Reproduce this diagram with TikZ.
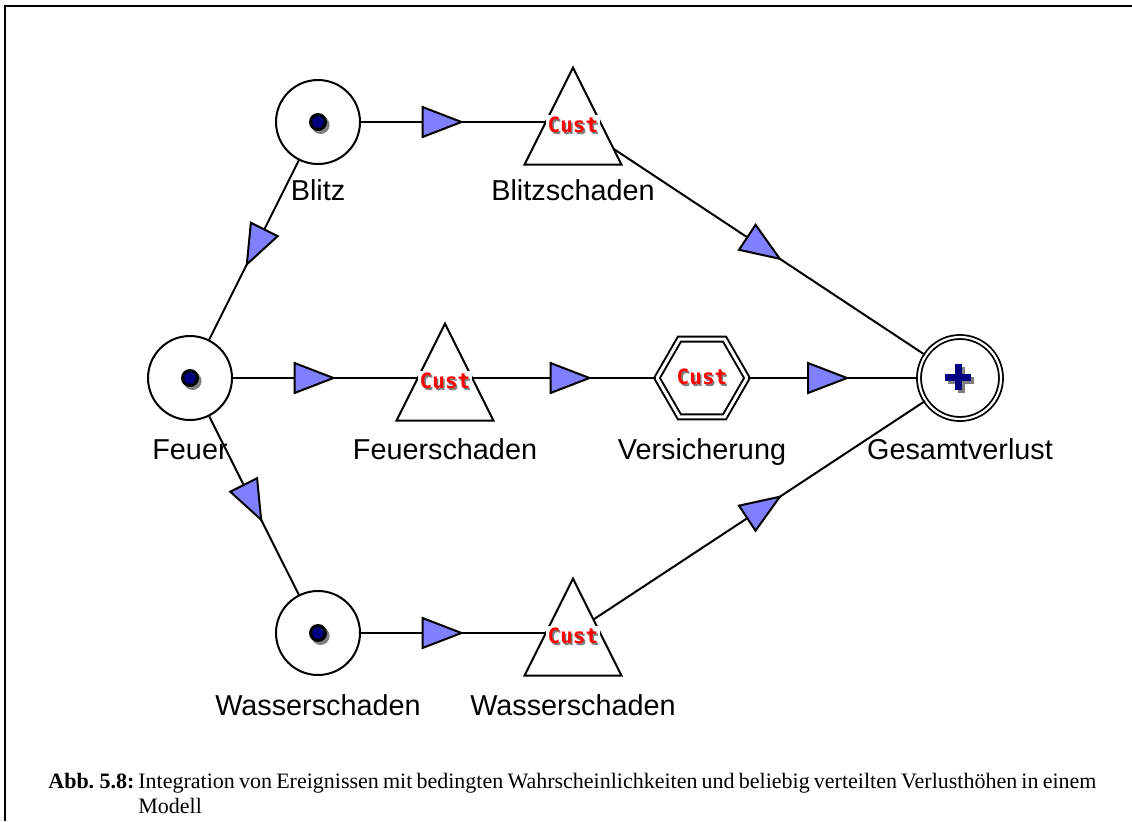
\documentclass[tikz,border=0pt]{standalone}
\usepackage{fontspec}
\setmainfont{Liberation Sans}
\newfontfamily\capfont{Liberation Serif}
\newfontfamily\custfont{DejaVu Sans Mono}
\usepackage{xcolor}
\definecolor{mnavy}{HTML}{000080}
\definecolor{mtri}{HTML}{8080FF}
\definecolor{mshade}{HTML}{808080}
\usetikzlibrary{shapes.geometric,decorations.markings}
\newcommand{\custtag}{\custfont\bfseries\makebox[0pt][l]{\hspace{0.8pt}\raisebox{-1.2pt}{\color{mshade}Cust}}\color{red}Cust}

\begin{document}
\begin{tikzpicture}[x=0.5pt, y=-0.5pt,
    chance/.style={circle, draw, line width=1pt, minimum size=42pt, inner sep=0pt},
    loss/.style={isosceles triangle, isosceles triangle stretches, shape border rotate=90, draw, fill=white, line width=1pt, minimum width=48.5pt, minimum height=48.5pt, inner sep=0pt},
    insure/.style={regular polygon, regular polygon sides=6, draw, double, line width=1pt, double distance=1.5pt, minimum size=45pt, inner sep=0pt},
    total/.style={circle, draw, double, line width=0.9pt, double distance=1.1pt, minimum size=41pt, inner sep=0pt},
    lbl/.style={anchor=base, inner sep=0pt, font=\fontsize{14.4}{17}\selectfont},
    custlbl/.style={fill=white, inner sep=1pt, font=\fontsize{10.5}{12}\selectfont},
    link/.style={line width=1pt},
    midtri/.style={postaction={decorate}, decoration={markings, mark=at position 0.5 with {\draw[line width=1pt, fill=mtri] (8pt,0) -- (-11.5pt,7.5pt) -- (-11.5pt,-7.5pt) -- cycle;}}}]
    \useasboundingbox (0,0) rectangle (1132,821);
    \draw[line width=1pt] (5,821) -- (5,6) -- (1132,6);

    \node[chance] (Blitz) at (318,122) {};
    \node[chance] (Feuer) at (190,378) {};
    \node[chance] (Wasser) at (318,633) {};
    \coordinate (BsM) at (573,122);
    \coordinate (FsM) at (445,378);
    \coordinate (WsM) at (573,633);
    \node[insure] (Vers) at (702,378) {};
    \node[total] (Ges) at (960,378) {};

    \draw[link] (Blitz) -- (Feuer);
    \draw[link] (Feuer) -- (Wasser);
    \draw[link] (Blitz) -- (BsM);
    \draw[link] (Feuer) -- (FsM);
    \draw[link] (Wasser) -- (WsM);
    \draw[link] (FsM) -- (Vers);
    \draw[link] (BsM) -- (Ges);
    \draw[link] (Vers) -- (Ges);
    \draw[link] (WsM) -- (Ges);

    \node[loss] (Bs) at (573,134.7) {};
    \node[loss] (Fs) at (445,390.7) {};
    \node[loss] (Ws) at (573,645.7) {};

    \path[midtri] (Blitz.center) -- (Feuer.center);
    \path[midtri] (Feuer.center) -- (Wasser.center);
    \path[midtri] (Blitz.center) -- (BsM);
    \path[midtri] (Feuer.center) -- (FsM);
    \path[midtri] (Wasser.center) -- (WsM);
    \path[midtri] (FsM) -- (Vers.center);
    \path[midtri] (BsM) -- (Ges.center);
    \path[midtri] (Vers.center) -- (Ges.center);
    \path[midtri] (WsM) -- (Ges.center);

    \node[custlbl] (BsC) at (573,126) {\custtag};
    \node[custlbl] (FsC) at (445,382) {\custtag};
    \node[custlbl] (WsC) at (573,637) {\custtag};
    \node[custlbl, fill=none] (VersC) at (702,378) {\custtag};

    \foreach \n in {Blitz, Feuer, Wasser} {
        \fill[mshade] ([shift={(1.3pt,-1.5pt)}]\n.center) circle (4.5pt);
        \fill[black] (\n.center) circle (4.5pt);
        \fill[mnavy] (\n.center) circle (2.9pt);
    }
    \fill[mshade] ([shift={(0.5pt,-1pt)}]Ges.center) ++(-6.5pt,-1.75pt) rectangle ++(13pt,3.5pt);
    \fill[mshade] ([shift={(0.5pt,-1pt)}]Ges.center) ++(-1.75pt,-6.5pt) rectangle ++(3.5pt,13pt);
    \fill[mnavy] ([shift={(-1pt,0.5pt)}]Ges.center) ++(-6.5pt,-1.75pt) rectangle ++(13pt,3.5pt);
    \fill[mnavy] ([shift={(-1pt,0.5pt)}]Ges.center) ++(-1.75pt,-6.5pt) rectangle ++(3.5pt,13pt);

    \node[lbl] (BlitzL) at (318,200) {Blitz};
    \node[lbl] (BsL) at (573,200) {Blitzschaden};
    \node[lbl] (FeuerL) at (190,459) {Feuer};
    \node[lbl] (FsL) at (445,459) {Feuerschaden};
    \node[lbl] (VersL) at (702,459) {Versicherung};
    \node[lbl] (GesL) at (960,459) {Gesamtverlust};
    \node[lbl] (WasserL) at (318,715) {Wasserschaden};
    \node[lbl] (WsL) at (573,715) {Wasserschaden};

    \node[anchor=base west, inner sep=0pt, font=\capfont\fontsize{11}{12.5}\selectfont\bfseries] (abb) at (48,788) {Abb.\ 5.8:};
    \node[anchor=base west, inner sep=0pt, text width=479pt, align=justify, font=\capfont\fontsize{11}{12.5}\selectfont] (captxt) at (138,788) {Integration von Ereignissen mit bedingten Wahrscheinlichkeiten und beliebig verteilten Verlusth\"ohen in einem\linebreak Modell};
\end{tikzpicture}
\end{document}
